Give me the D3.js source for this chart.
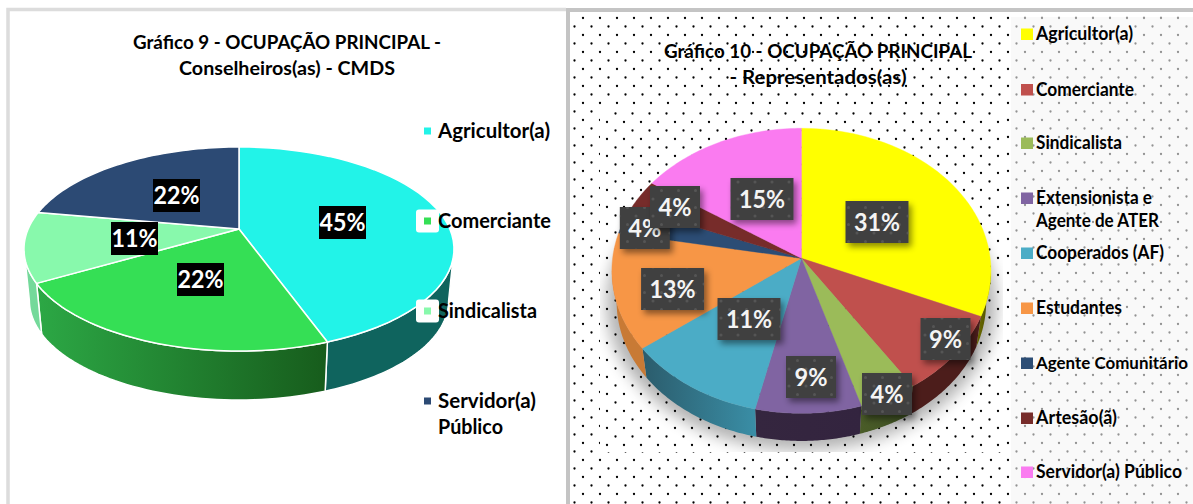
<!DOCTYPE html>
<html><head><meta charset="utf-8">
<script src="https://cdn.jsdelivr.net/npm/d3@7"></script>
<style>html,body{margin:0;padding:0;background:#fff}svg{display:block}text{font-family:Lato,"Open Sans",sans-serif;font-weight:700}</style>
</head><body><svg id="c" width="1193" height="504"></svg>
<script>
// ---------- data ----------
const title9 = ["Gráfico 9 - OCUPAÇÃO PRINCIPAL -", "Conselheiros(as) - CMDS"];
const categories9 = ["Agricultor(a)", "Comerciante", "Sindicalista", "Servidor(a) Público"];
const values9 = [44.4, 22.2, 11.1, 22.2];
const labels9 = ["45%", "22%", "11%", "22%"];
const colors9 = ["#22f3e8", "#35df55", "#88f9ac", "#2c4a74"];

const title10 = ["Gráfico 10 - OCUPAÇÃO PRINCIPAL", "- Representados(as)"];
const categories10 = ["Agricultor(a)", "Comerciante", "Sindicalista", "Extensionista e Agente de ATER", "Cooperados (AF)", "Estudantes", "Agente Comunitário", "Artesão(ã)", "Servidor(a) Público"];
const values10 = [31.5, 9.3, 4.5, 8.3, 11.1, 13.2, 3.1, 3.4, 15.6];
const labels10 = ["31%", "9%", "4%", "9%", "11%", "13%", "4%", "4%", "15%"];
const colors10 = ["#ffff00", "#c0504d", "#9bbb59", "#8064a2", "#4bacc6", "#f79646", "#2c4d75", "#772c2a", "#fa7bf0"];

// ---------- layout and style (not data) ----------
const geom9 = {cx:239, cy:229, above:82, below:122, halfW:215, depthY:52, lowerScale:.975};
const geom10 = {cx:801.4, cy:258.3, above:130, below:155, halfW:189.5, depthY:31.5, lowerScale:.975};
const sideStops9 = [["#0f645e","#0f645e"],["#2ca845","#175c1c"],["#74d99a","#74d99a"],["#1c3350","#1c3350"]];
const sideStops10 = [["#6e6e00","#4a4a00"],["#4c1d1b","#4c1d1b"],["#4a5c28","#3d4f22"],["#35263f","#33243f"],["#2b5c6c","#3a8ea6"],["#c87a35","#c87a35"],["#1c3350","#1c3350"],["#4c1d1b","#4c1d1b"],["#a050a0","#a050a0"]];
const labelCentres9 = [[342.5,222.5],[200.5,279.5],[134.5,238.5],[176.5,195.5]];
const labelCentres10 = [[877,222],[945.5,339],[887,394],[811,377],[749,319],[672.6,289],[644.8,228],[675,207],[762,199]];
const labelW10 = [63,50,50,50,63,63,50,50,63];

const svg = d3.select("#c");
const defs = svg.append("defs");

function dots(id, x, y, r, fill, opacity){
  const p = defs.append("pattern").attr("id",id).attr("patternUnits","userSpaceOnUse")
    .attr("width",17).attr("height",17).attr("x",x).attr("y",y);
  [[2,2],[10.5,10.5]].forEach(d=>p.append("circle").attr("cx",d[0]).attr("cy",d[1]).attr("r",r).attr("fill",fill).attr("opacity",opacity));
}
dots("dotsBase", 581, 16, 1.15, "#000", 1);
dots("dotsPic", 605, 18, 1.15, "#000", 1);
dots("dotsLabel", 600, 10, 1.5, "#666", .55);

const blur = defs.append("filter").attr("id","blurShadow").attr("x","-20%").attr("y","-20%").attr("width","140%").attr("height","140%");
blur.append("feGaussianBlur").attr("stdDeviation",8);
const ls = defs.append("filter").attr("id","labelShadow").attr("x","-30%").attr("y","-30%").attr("width","170%").attr("height","170%");
ls.append("feDropShadow").attr("dx",3).attr("dy",4).attr("stdDeviation",3).attr("flood-color","#000").attr("flood-opacity",.45);

// panels
svg.append("rect").attr("x",6).attr("y",8).attr("width",562).attr("height",500).attr("fill","#fff");
svg.append("path").attr("d","M8 504V9.5H566").attr("fill","none").attr("stroke","#dcdcdc").attr("stroke-width",3.5);
svg.append("rect").attr("x",570).attr("y",12).attr("width",623).attr("height",492).attr("fill","url(#dotsBase)");
svg.append("path").attr("d","M568 504V10H1193").attr("fill","none").attr("stroke","#c4c4c4").attr("stroke-width",4);
svg.append("rect").attr("x",1011).attr("y",17).attr("width",182).attr("height",487).attr("fill","#f5f5f5").attr("opacity",.6);

function projector(g){
  const k = (g.below-g.above)/(g.below+g.above);
  const A = g.above*(1+k), B = g.halfW*Math.sqrt(1-k*k);
  const fn = (t, r=1, scale=1, dy=0) => {
    const u = r*Math.sin(t), v = -r*Math.cos(t), w = 1-k*v;
    return [g.cx + scale*B*u/w, g.cy + dy + scale*A*v/w];
  };
  fn.k = k;
  return fn;
}

function drawPie(opts){
  const {values, colors, geom, sideStops, rim, id, shadow} = opts;
  const project = projector(geom);
  const slices = d3.pie().sort(null)(values);
  const line = d3.line();
  const arcPts = (a0,a1,scale,dy) => d3.range(0,49).map(i=>project(a0+(a1-a0)*i/48,1,scale,dy));
  const tangent = Math.acos(-project.k);
  const g = svg.append("g");

  if(shadow){
    const clip = defs.append("clipPath").attr("id",id+"clip");
    clip.append("rect").attr("x",600).attr("y",110).attr("width",403).attr("height",342);
    const sh = g.append("g").attr("clip-path",`url(#${id}clip)`);
    sh.append("rect").attr("x",600).attr("y",110).attr("width",403).attr("height",342).attr("fill","#fff");
    sh.append("path").attr("d",line(arcPts(0,2*Math.PI,1.03,geom.depthY+1))+"Z").attr("fill","#000").attr("opacity",.3).attr("filter","url(#blurShadow)");
    sh.append("rect").attr("x",600).attr("y",110).attr("width",403).attr("height",342).attr("fill","url(#dotsPic)");
  }

  // side walls, only where they face the viewer
  slices.forEach((s,i)=>{
    const a0 = Math.max(s.startAngle,tangent), a1 = Math.min(s.endAngle,2*Math.PI-tangent);
    if(a1<=a0) return;
    const pts = arcPts(a0,a1,1,0).concat(arcPts(a0,a1,geom.lowerScale,geom.depthY).reverse());
    const ext = d3.extent(pts,p=>p[0]);
    const gid = `${id}side${i}`;
    const lg = defs.append("linearGradient").attr("id",gid).attr("gradientUnits","userSpaceOnUse")
      .attr("x1",ext[0]).attr("x2",ext[1]).attr("y1",0).attr("y2",0);
    lg.append("stop").attr("offset",0).attr("stop-color",sideStops[i][0]);
    lg.append("stop").attr("offset",1).attr("stop-color",sideStops[i][1]);
    const p = g.append("path").attr("d",line(pts)+"Z").attr("fill",`url(#${gid})`);
    if(rim) p.attr("stroke","#fff").attr("stroke-width",1.5).attr("stroke-linejoin","round");
  });

  // top face
  slices.forEach((s,i)=>{
    const pts = [project(0,0)].concat(arcPts(s.startAngle,s.endAngle,1,0));
    const p = g.append("path").attr("d",line(pts)+"Z").attr("fill",colors[i]);
    if(rim) p.attr("stroke","#fff").attr("stroke-width",1.5).attr("stroke-linejoin","round");
    else p.attr("stroke",colors[i]).attr("stroke-width",.4);
  });
}

drawPie({values:values9, colors:colors9, geom:geom9, sideStops:sideStops9, rim:true, id:"p9"});
drawPie({values:values10, colors:colors10, geom:geom10, sideStops:sideStops10, rim:false, id:"p10", shadow:true});

// data labels
labels9.forEach((v,i)=>{
  const [x,y] = labelCentres9[i];
  svg.append("rect").attr("x",x-23.5).attr("y",y-16.5).attr("width",47).attr("height",33).attr("fill","#000");
  svg.append("text").attr("x",x).attr("y",y+8.5).attr("text-anchor","middle").attr("font-size",24).attr("fill","#fff")
    .attr("textLength",46).attr("lengthAdjust","spacingAndGlyphs").text(v);
});
labels10.forEach((v,i)=>{
  const [x,y] = labelCentres10[i], w = labelW10[i];
  svg.append("rect").attr("x",x-w/2).attr("y",y-21).attr("width",w).attr("height",42).attr("fill","#404040").attr("filter","url(#labelShadow)");
  svg.append("rect").attr("x",x-w/2).attr("y",y-21).attr("width",w).attr("height",42).attr("fill","url(#dotsLabel)");
  svg.append("text").attr("x",x).attr("y",y+9).attr("text-anchor","middle").attr("font-size",25).attr("fill","#f4f4f4")
    .attr("textLength",v.length>2?46:33).attr("lengthAdjust","spacingAndGlyphs").text(v);
});

function fitted(x,y,str,size,len,anchor="start"){
  return svg.append("text").attr("x",x).attr("y",y).attr("font-size",size).attr("fill","#000")
    .attr("text-anchor",anchor).attr("textLength",len).attr("lengthAdjust","spacingAndGlyphs").text(str);
}

// titles
[[title9,287,49,[308,216]],[title10,818,58,[308,177]]].forEach(([t,x,y,w])=>{
  t.forEach((s,i)=>fitted(x,y+i*26,s,18.5,w[i],"middle"));
});

// legend 9
const rowY9 = [131,221,311,401];
const rowLines9 = [["Agricultor(a)"],["Comerciante"],["Sindicalista"],["Servidor(a)","Público"]];
const rowLen9 = [[112],[113],[99],[98,65]];
categories9.forEach((c,i)=>{
  if(i===1||i===2) svg.append("rect").attr("x",416).attr("y",rowY9[i]-11.5).attr("width",23).attr("height",23).attr("rx",3).attr("fill","#fff");
  svg.append("rect").attr("x",424).attr("y",rowY9[i]-3.5).attr("width",7).attr("height",7).attr("fill",colors9[i]);
  rowLines9[i].forEach((s,j)=>fitted(438,rowY9[i]+7+j*26,s,20,rowLen9[i][j]));
});

// legend 10
const rowY10 = [34,89.5,143,198,253,308,363,418,472];
const rowLines10 = [["Agricultor(a)"],["Comerciante"],["Sindicalista"],["Extensionista e","Agente de ATER"],["Cooperados (AF)"],["Estudantes"],["Agente Comunitário"],["Artesão(ã)"],["Servidor(a) Público"]];
const rowLen10 = [[97],[98],[86],[116,123],[128],[86],[152],[81],[146]];
categories10.forEach((c,i)=>{
  svg.append("rect").attr("x",1021).attr("y",rowY10[i]-5.5).attr("width",12).attr("height",11.5).attr("fill",colors10[i]);
  rowLines10[i].forEach((s,j)=>fitted(1036,rowY10[i]+6+j*23,s,i===6?17:18,rowLen10[i][j]));
});
</script></body></html>
